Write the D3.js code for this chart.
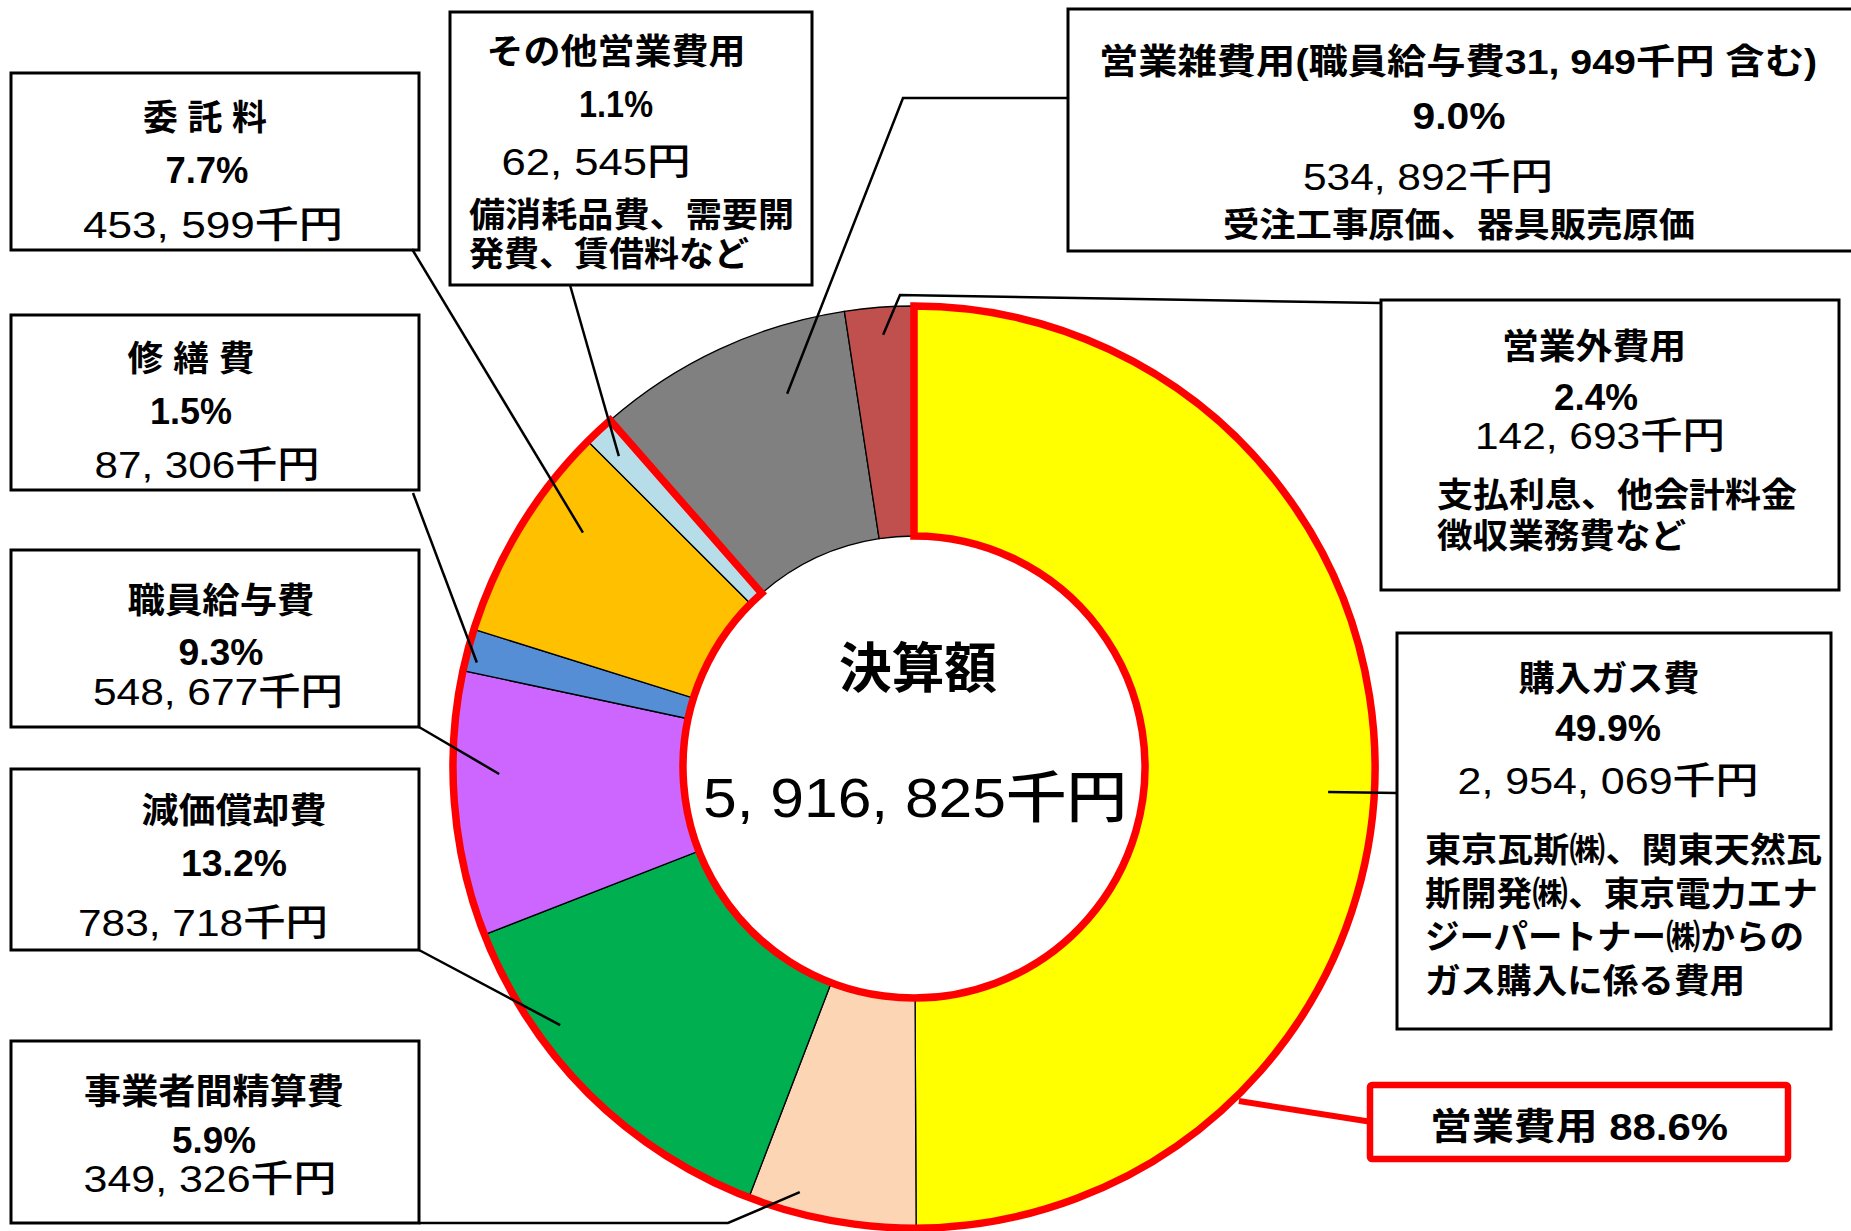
<!DOCTYPE html>
<html><head><meta charset="utf-8">
<script src="https://cdn.jsdelivr.net/npm/d3@7"></script>
<style>html,body{margin:0;padding:0;background:#fff;overflow:hidden}</style>
</head><body>
<svg id="chart" width="1851" height="1231"></svg>
<script>
// ---------------- data ----------------
const categories = ["購入ガス費","事業者間精算費","減価償却費","職員給与費","修繕費","委託料","その他営業費用","営業雑費用","営業外費用"];
const amounts = [2954069, 349326, 783718, 548677, 87306, 453599, 62545, 534892, 142693]; // 千円
const percents = ["49.9%","5.9%","13.2%","9.3%","1.5%","7.7%","1.1%","9.0%","2.4%"];
const amountLabels = ["2, 954, 069千円","349, 326千円","783, 718千円","548, 677千円","87, 306千円","453, 599千円","62, 545円","534, 892千円","142, 693千円"];
const titles = ["購入ガス費","事業者間精算費","減価償却費","職員給与費","修 繕 費","委 託 料","その他営業費用","営業雑費用(職員給与費31, 949千円 含む)","営業外費用"];
const notes = [
  ["東京瓦斯㈱、関東天然瓦","斯開発㈱、東京電力エナ","ジーパートナー㈱からの","ガス購入に係る費用"],
  [],[],[],[],[],
  ["備消耗品費、需要開","発費、賃借料など"],
  ["受注工事原価、器具販売原価"],
  ["支払利息、他会計料金","徴収業務費など"]
];
const centerTitle = "決算額";
const totalLabel = "5, 916, 825千円";
const operatingCount = 7;            // first 7 categories = 営業費用
const operatingLabel = "営業費用  88.6%";
const colors = ["#FFFF00","#FCD5B5","#00B050","#CC66FF","#558ED5","#FFC000","#B7DEE8","#808080","#C0504D"];

// ---------------- layout ----------------
const cx = 914, cy = 767, R = 461, R0 = 231;
const DY = 0;
const FONT = "'Liberation Sans','Noto Sans CJK JP',sans-serif";
const layout = [
  {i:0, box:[1397,633,434,396], lines:[
     {k:"title",cx:1609,cy:678,w:181},{k:"pct",cx:1608,cy:728,w:106},{k:"amt",cx:1608,cy:781,w:301},
     {k:"note",n:0,lx:1425,cy:850,w:397},{k:"note",n:1,lx:1425,cy:894,w:393},{k:"note",n:2,lx:1425,cy:937,w:379},{k:"note",n:3,lx:1425,cy:981,w:320}],
   leader:[[1397,793]], t:0.52, rf:0.90},
  {i:1, box:[11,1041,408,182], lines:[
     {k:"title",cx:214,cy:1091,w:260},{k:"pct",cx:214,cy:1140,w:84},{k:"amt",cx:210,cy:1179,w:253}],
   leader:[[419,1223],[728,1223]], t:0.72, rf:0.955},
  {i:2, box:[11,769,408,181], lines:[
     {k:"title",cx:234,cy:810,w:185},{k:"pct",cx:234,cy:863,w:106},{k:"amt",cx:203,cy:923,w:250}],
   leader:[[419,950]], t:0.69, rf:0.95},
  {i:3, box:[11,550,408,177], lines:[
     {k:"title",cx:221,cy:600,w:187},{k:"pct",cx:221,cy:652,w:85},{k:"amt",cx:218,cy:692,w:250}],
   leader:[[419,727]], t:0.61, rf:0.90},
  {i:4, box:[11,315,408,175], lines:[
     {k:"title",cx:191,cy:358,w:127},{k:"pct",cx:191,cy:411,w:82},{k:"amt",cx:207,cy:465,w:225}],
   leader:[[413,493]], t:0.26, rf:0.975},
  {i:5, box:[11,73,408,177], lines:[
     {k:"title",cx:205,cy:117,w:124},{k:"pct",cx:207,cy:170,w:83},{k:"amt",cx:213,cy:225,w:260}],
   leader:[[412,249]], t:0.65, rf:0.88},
  {i:6, box:[450,12,362,273], lines:[
     {k:"title",cx:616,cy:51,w:259},{k:"pct",cx:616,cy:104,w:74},{k:"amt",cx:596,cy:162,w:189},
     {k:"note",n:0,lx:469,cy:215,w:325},{k:"note",n:1,lx:469,cy:254,w:280}],
   leader:[[570,285]], t:0.4, rf:0.93},
  {i:7, box:[1068,9,800,242], lines:[
     {k:"title",cx:1458,cy:61,w:718},{k:"pct",cx:1459,cy:116,w:93},{k:"amt",cx:1428,cy:177,w:250},
     {k:"note",n:0,cx:1459,cy:225,w:472}],
   leader:[[1068,98],[903,98]], t:0.69, rf:0.855},
  {i:8, box:[1381,300,458,290], lines:[
     {k:"title",cx:1594,cy:346,w:184},{k:"pct",cx:1596,cy:397,w:84},{k:"amt",cx:1600,cy:436,w:250},
     {k:"note",n:0,lx:1437,cy:495,w:360},{k:"note",n:1,lx:1437,cy:536,w:249}],
   leader:[[1381,303],[900,295]], t:0.53, rf:0.94}
];
const styles = {
  title:{size:35, weight:700},
  pct:{size:36, weight:700},
  amt:{size:37, weight:500},
  note:{size:34, weight:700}
};

// ---------------- drawing ----------------
const svg = d3.select("#chart");
svg.append("rect").attr("width",1851).attr("height",1231).attr("fill","#fff");

const pie = d3.pie().sort(null).value(d => d)(amounts);
const arc = d3.arc().innerRadius(R0).outerRadius(R);
const g = svg.append("g").attr("transform", `translate(${cx},${cy})`);

g.selectAll("path.slice").data(pie).join("path")
  .attr("class","slice")
  .attr("d", arc)
  .attr("fill", (d,i) => colors[i])
  .attr("stroke", "#000")
  .attr("stroke-width", 1.3);

// 営業費用 group outline
const opStart = pie[0].startAngle, opEnd = pie[operatingCount-1].endAngle;
g.append("path")
  .attr("d", d3.arc()({innerRadius:R0, outerRadius:R, startAngle:opStart, endAngle:opEnd}))
  .attr("fill","none").attr("stroke","#FF0000").attr("stroke-width",7.5).attr("stroke-linejoin","miter");

function polar(angle, rr){ return [cx + rr*Math.sin(angle), cy - rr*Math.cos(angle)]; }

function fitText(sel, target){
  sel.attr("textLength", target).attr("lengthAdjust", "spacingAndGlyphs");
}

// boxes & labels
const labelsG = svg.append("g");
layout.forEach(L => {
  const [bx,by,bw,bh] = L.box;
  labelsG.append("rect").attr("x",bx).attr("y",by).attr("width",bw).attr("height",bh)
    .attr("fill","#fff").attr("stroke","#000").attr("stroke-width",3);
  L.lines.forEach(ln => {
    const st = styles[ln.k];
    let txt;
    if (ln.k === "title") txt = titles[L.i];
    else if (ln.k === "pct") txt = percents[L.i];
    else if (ln.k === "amt") txt = amountLabels[L.i];
    else txt = notes[L.i][ln.n];
    const t = labelsG.append("text")
      .attr("x", ln.lx !== undefined ? ln.lx : ln.cx)
      .attr("y", ln.cy + DY)
      .attr("text-anchor", ln.lx !== undefined ? "start" : "middle")
      .attr("dominant-baseline","central")
      .style("font-family", FONT).style("font-size", st.size+"px").style("font-weight", st.weight)
      .attr("fill","#000")
      .text(txt);
    fitText(t, ln.w);
  });
});

// leader lines
const leadG = svg.append("g");
layout.forEach(L => {
  const d = pie[L.i];
  const a = d.startAngle + L.t*(d.endAngle - d.startAngle);
  const pts = L.leader.concat([polar(a, L.rf*R)]);
  leadG.append("path").attr("d", d3.line()(pts))
    .attr("fill","none").attr("stroke","#000").attr("stroke-width",2.5);
});

// 営業費用 label box
const opA = opStart + 0.426*(opEnd-opStart);
const opP = polar(opA, R+5);
leadG.append("path").attr("d", d3.line()([opP,[1372,1122]]))
  .attr("stroke","#FF0000").attr("stroke-width",6).attr("fill","none");
leadG.append("rect").attr("x",1370).attr("y",1085).attr("width",418).attr("height",74).attr("rx",2)
  .attr("fill","#fff").attr("stroke","#FF0000").attr("stroke-width",6.5);
fitText(leadG.append("text").attr("x",1579).attr("y",1127+DY).attr("text-anchor","middle")
  .attr("dominant-baseline","central")
  .style("font-family",FONT).style("font-size","37px").style("font-weight",700)
  .text(operatingLabel), 298);

// center text
fitText(svg.append("text").attr("x",918).attr("y",669+DY).attr("text-anchor","middle")
  .attr("dominant-baseline","central")
  .style("font-family",FONT).style("font-size","54px").style("font-weight",700)
  .text(centerTitle), 158);
fitText(svg.append("text").attr("x",915).attr("y",797+DY).attr("text-anchor","middle")
  .attr("dominant-baseline","central")
  .style("font-family",FONT).style("font-size","56px").style("font-weight",500)
  .text(totalLabel), 424);
</script>
</body></html>
